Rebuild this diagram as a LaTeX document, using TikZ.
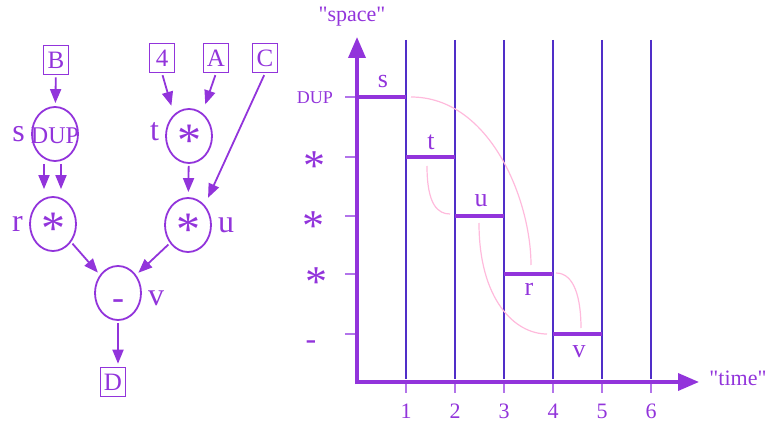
\documentclass[tikz,border=0pt]{standalone}
\usepackage{fontspec}
\setmainfont{Liberation Serif}
\usetikzlibrary{arrows.meta,shapes.geometric}
\definecolor{ink}{RGB}{146,52,219}
\definecolor{gridline}{RGB}{80,46,200}
\definecolor{tickmark}{RGB}{178,116,234}
\definecolor{trail}{RGB}{255,186,220}

\newcommand{\fs}[1]{\fontsize{#1}{#1}\selectfont}
\newcommand{\opsym}[2]{\makebox[0pt]{\raisebox{#1}[0pt][0pt]{#2}}}

\begin{document}
\begin{tikzpicture}[x=1pt,y=-1pt,
  >={Triangle[length=14pt,width=11pt]},
  every node/.style={text=ink},
  op/.style={ellipse,draw=ink,line width=1.8pt,minimum width=46pt,
    minimum height=54pt,inner sep=0pt,font=\fs{48}},
  val/.style={draw=ink,line width=1.6pt,minimum width=25pt,
    minimum height=29pt,inner sep=0pt,font=\fs{25}},
  tag/.style={font=\fs{32},inner sep=1pt},
  every label/.style={label distance=5pt},
  flow/.style={->,draw=ink,line width=1.8pt,shorten <=2pt,shorten >=3pt},
  axisline/.style={-{Triangle[length=21pt,width=17pt]},draw=ink,line width=3.5pt},
  slot/.style={draw=gridline,line width=2.6pt},
  busy/.style={draw=ink,line width=4.5pt},
  trace/.style={draw=trail,line width=1.2pt},
  cue/.style={anchor=base,font=\fs{26}}]
  \useasboundingbox (0,0) rectangle (766,422);

  % The dataflow graph: inputs, operators and the result.
  \node[val] (B) at (56,60) {B};
  \node[val] (n4) at (162,58) {4};
  \node[val] (A) at (216,58) {A};
  \node[val] (C) at (265,58) {C};
  \node[op,label={[tag]left:s}] (s) at (55,134) {\opsym{-10pt}{\fs{24}DUP}};
  \node[op,label={[tag,yshift=4pt]left:t}] (t) at (189,136) {\opsym{-21pt}{*}};
  \node[op,label={[tag]left:r}] (r) at (53,224) {\opsym{-21pt}{*}};
  \node[op,label={[tag]right:u}] (u) at (188,225) {\opsym{-21pt}{*}};
  \node[op,label={[tag,yshift=-5pt]right:v}] (v) at (118,293) {\opsym{-17pt}{\fs{36}-}};
  \node[val] (D) at (113,382) {D};

  \draw[flow] (B) -- (s);
  \draw[flow,shorten >=9pt] (n4.south) -- (t.125);
  \draw[flow,shorten >=9pt] (A.south) -- (t.60);
  \draw[flow,shorten >=8pt] (C.south) -- (u.50);
  \draw[flow,shorten >=7pt] ([xshift=-11pt]s.south) -- ([xshift=-9pt]r.north);
  \draw[flow,shorten >=7pt] ([xshift=6pt]s.south) -- ([xshift=8pt]r.north);
  \draw[flow,shorten >=5pt] (t) -- (u);
  \draw[flow] (r.-45) -- (v.135);
  \draw[flow] (u.-135) -- (v.45);
  \draw[flow] (v.south) -- (v.south |- D.north);

  % Time slots of the schedule.
  \coordinate (O) at (357,382);
  \foreach \i in {1,...,6} {
    \draw[slot] ({357+49*\i},40) -- ({357+49*\i},379);
    \draw[tickmark,line width=1.5pt] ({357+49*\i},384) -- ++(0,9);
    \node[anchor=base,font=\fs{22}] (num\i) at ({357+49*\i},418) {\i};
  }
  \foreach \y in {97,157,216,274,334}
    \draw[tickmark,line width=1.5pt] (345,\y) -- (357,\y);

  % Axes.
  \draw[axisline] ([yshift=-2pt]O) -- (357,37);
  \draw[axisline] ([xshift=-2pt]O) -- (699,382);
  \node[anchor=base,font=\fs{22}] (space) at (352,22) {\textquotedbl space\textquotedbl};
  \node[anchor=base,font=\fs{22}] (time) at (738,385) {\textquotedbl time\textquotedbl};

  % Operators along the space axis.
  \node[anchor=base,font=\fs{18}] (opdup) at (315,104) {DUP};
  \node[anchor=base,font=\fs{44}] (opa) at (314,181) {*};
  \node[anchor=base,font=\fs{44}] (opb) at (313,241) {*};
  \node[anchor=base,font=\fs{44}] (opc) at (316,296) {*};
  \node[anchor=base,font=\fs{32}] (opd) at (311,349) {-};

  % Busy intervals, one per operator.
  \foreach \k/\y in {0/97,1/157,2/216,3/274,4/334}
    \draw[busy] ({357+49*\k},\y) -- ({357+49*(\k+1)},\y);
  \node[cue] (cs) at (383,88) {s};
  \node[cue] (ct) at (431,150) {t};
  \node[cue] (cu) at (481,207) {u};
  \node[cue] (cr) at (529,295) {r};
  \node[cue] (cv) at (579,357) {v};

  % Value lifetimes from producer to consumer.
  \draw[trace] (411,97) .. controls (490,97) and (531,200) .. (531,265);
  \draw[trace] (427,166) .. controls (427,205) and (438,214) .. (450,214);
  \draw[trace] (479,223) .. controls (479,300) and (515,334) .. (547,334);
  \draw[trace] (556,273) .. controls (575,273) and (581,300) .. (581,328);
\end{tikzpicture}
\end{document}
